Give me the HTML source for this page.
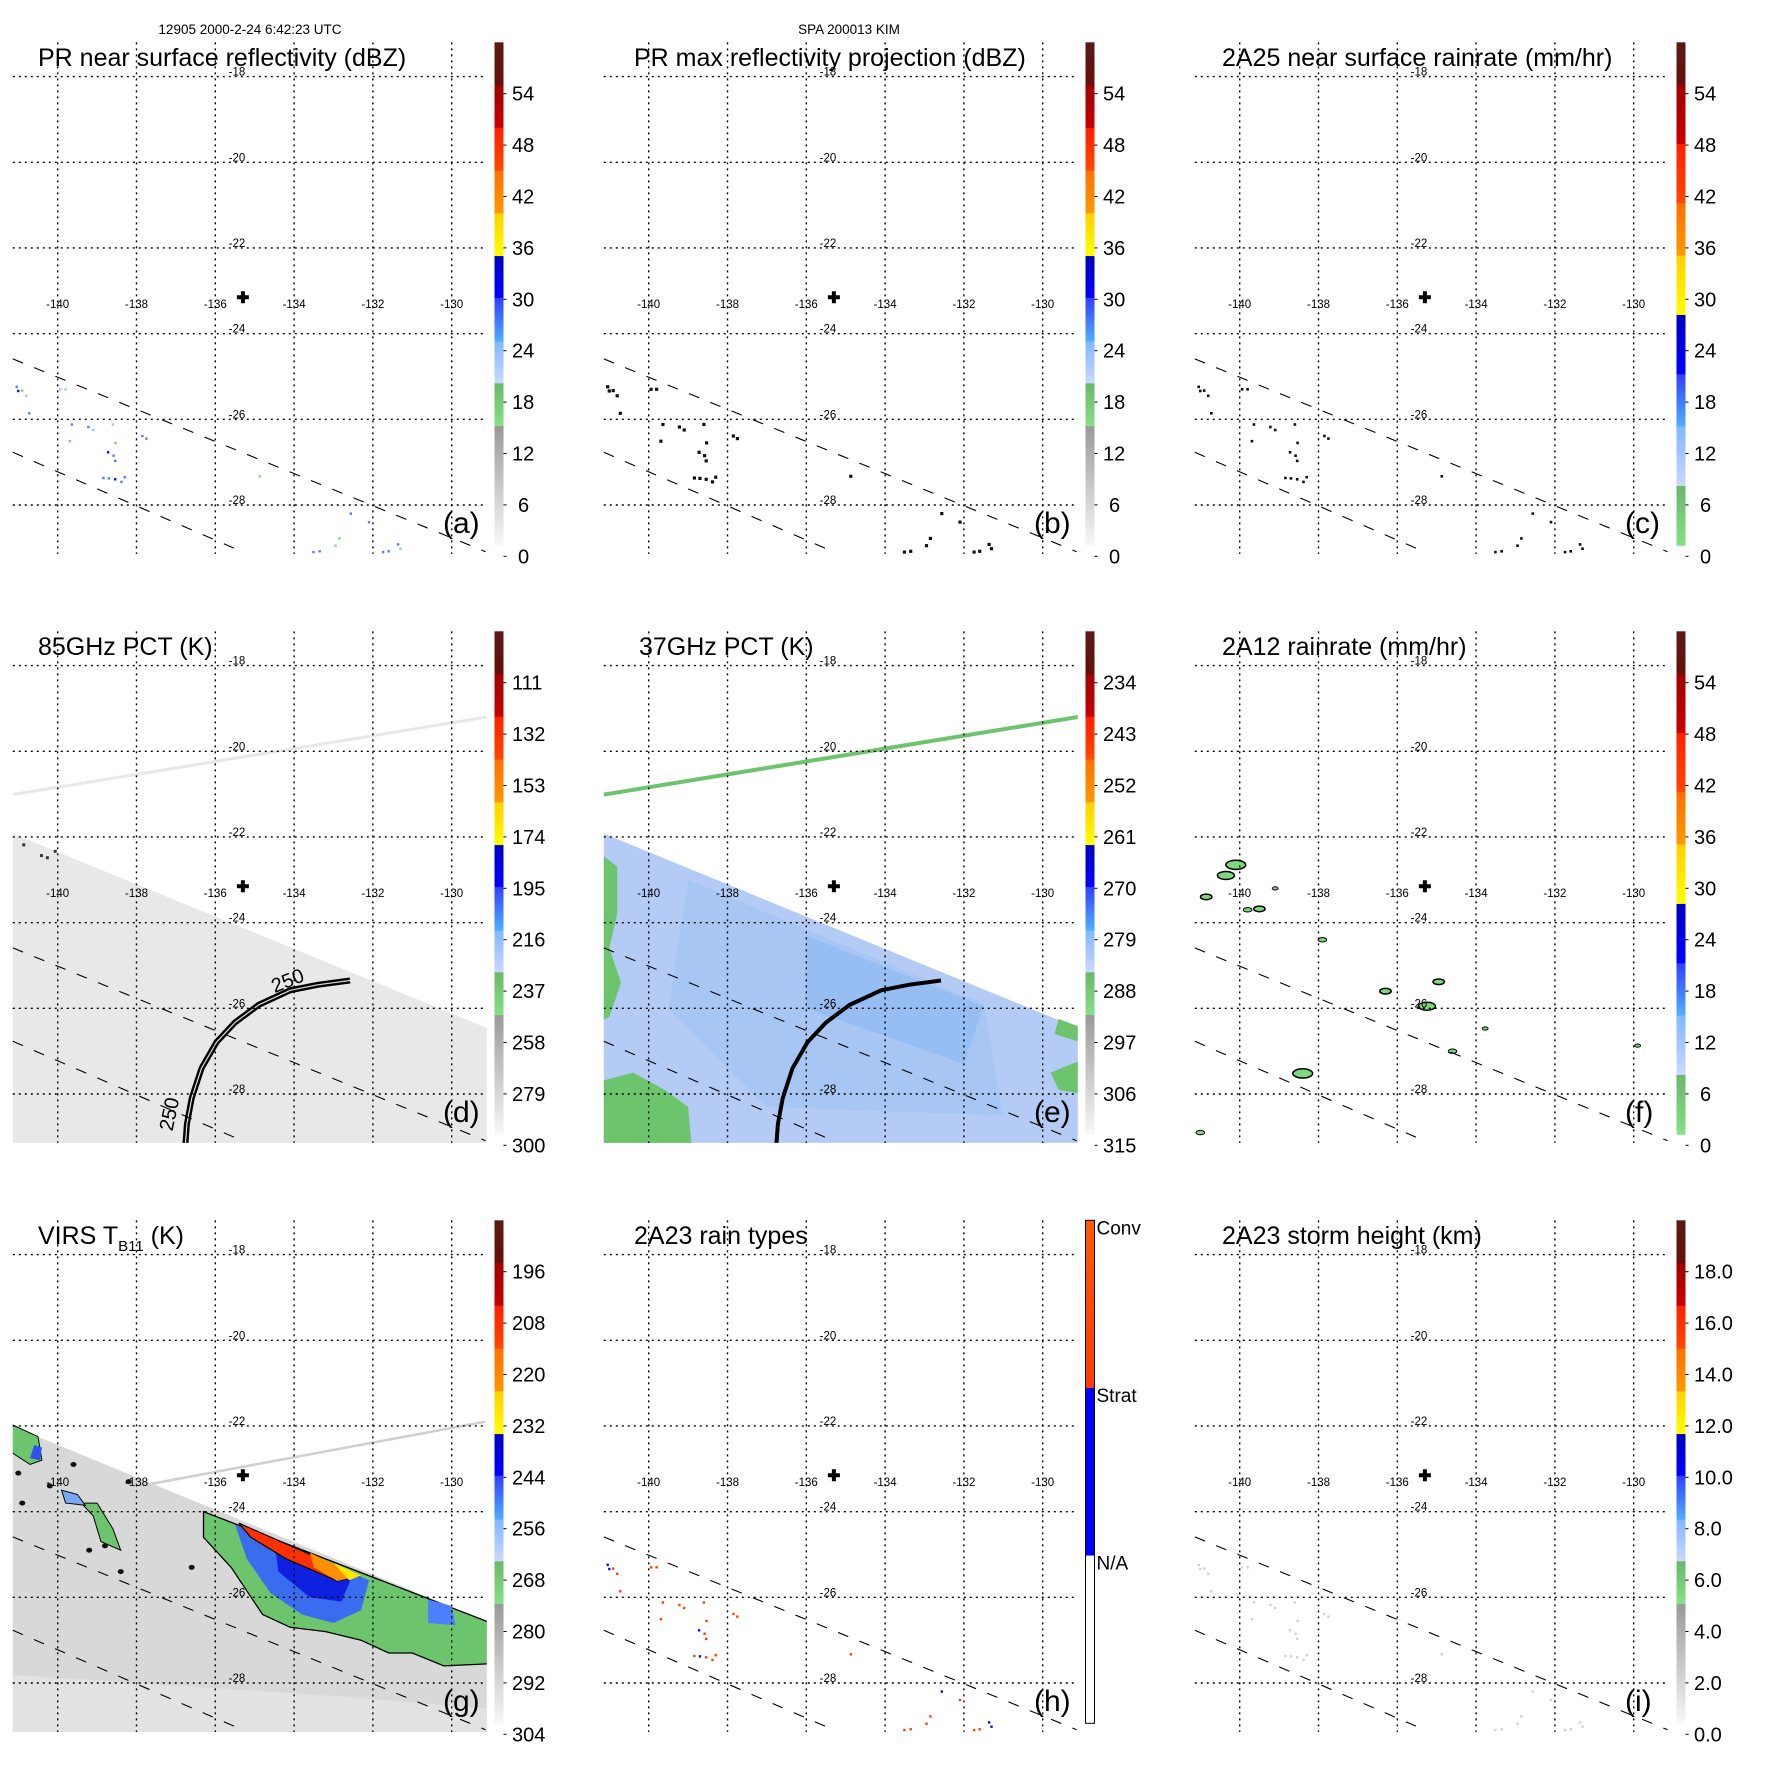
<!DOCTYPE html>
<html><head><meta charset="utf-8"><style>
html,body{margin:0;padding:0;background:#fff;}
svg{display:block;font-family:"Liberation Sans",Arial,sans-serif;}
</style></head><body>
<svg id="fig" xmlns="http://www.w3.org/2000/svg" width="1771" height="1771" viewBox="0 0 1771 1771">
<rect width="1771" height="1771" fill="#fff"/>
<text x="250" y="34" font-size="13.5" text-anchor="middle">12905 2000-2-24 6:42:23 UTC</text>
<text x="849" y="34" font-size="13.5" text-anchor="middle">SPA 200013 KIM</text>
</svg>
<script>
// ---- data arrays ----
const lonTicks = [-140,-138,-136,-134,-132,-130];
const latTicks = [-18,-20,-22,-24,-26,-28];
const centerLon = -135.3, centerLat = -23.15;
// PR echo points (lon, lat, dBZ)
const ptLon = [-141.04,-141.0,-140.9,-140.8,-140.72,-139.94,-139.8,-139.64,-139.22,-139.1,-138.6,-139.69,-138.53,-138.72,-138.58,-138.54,-138.84,-138.7,-138.54,-138.38,-138.3,-137.85,-137.75,-134.87,-132.56,-132.1,-132.85,-132.95,-133.51,-133.35,-131.74,-131.6,-131.36,-131.3];
const ptLat = [-25.24,-25.34,-25.33,-25.45,-25.86,-25.3,-25.3,-26.12,-26.18,-26.25,-26.12,-26.51,-26.55,-26.77,-26.85,-26.97,-27.37,-27.38,-27.4,-27.46,-27.35,-26.39,-26.45,-27.33,-28.2,-28.4,-28.78,-28.95,-29.1,-29.08,-29.1,-29.08,-28.92,-29.02];
const ptVal = [26,32,19,22,24,23,22,24,26,23,22,18,19,30,25,27,26,28,30,25,24,26,27,18,28,24,18,22,28,26,24,27,25,22];
// 2A23 rain type per point: 2=conv,1=strat
const ptType = [1,1,2,2,2,2,2,2,2,2,2,2,2,1,2,2,2,1,2,2,2,2,2,2,1,2,2,2,2,2,2,2,1,1];
// 2A12 rain blobs (lon, lat, mm/hr)
const blobLon = [-140.1,-140.35,-140.85,-139.5,-139.8,-137.9,-136.3,-135.25,-134.95,-138.4,-134.6,-133.77,-129.9,-141.0,-139.1];
const blobLat = [-22.65,-22.9,-23.4,-23.68,-23.7,-24.4,-25.6,-25.95,-25.38,-27.52,-27.0,-26.47,-26.87,-28.9,-23.2];
const blobVal = [6,5,3,3,2,2,3,5,3,6,2,1,1,2,1];
// colorbar tick labels
const tickA = ['54','48','42','36','30','24','18','12','6','0'];
const tickD = ['111','132','153','174','195','216','237','258','279','300'];
const tickE = ['234','243','252','261','270','279','288','297','306','315'];
const tickG = ['196','208','220','232','244','256','268','280','292','304'];
const tickI = ['18.0','16.0','14.0','12.0','10.0','8.0','6.0','4.0','2.0','0.0'];
const typeLabels = ['Conv','Strat','N/A'];

const NS='http://www.w3.org/2000/svg';
const svg=document.getElementById('fig');
function el(tag,attrs,parent){const e=document.createElementNS(NS,tag);for(const k in attrs)e.setAttribute(k,attrs[k]);(parent||svg).appendChild(e);return e;}
const OFFX=591, OFFY=589;
function X(ox,lon){return ox+57.7+(lon+140)*39.4;}
function Y(oy,lat){return oy+76.6+(-18-lat)*42.84;}
const LON0=-141.14,LON1=-129.11,LAT0=-17.2,LAT1=-29.14;

const bandsA=[['#5a1a16','#651008',0,.085],['#a00000','#c80000',.085,.17],['#ff2000','#ff4800',.17,.255],['#ff7000','#ff9800',.255,.34],['#ffd000','#ffff00',.34,.425],['#0000c0','#0000ff',.425,.508],['#3040ff','#50b0ff',.508,.595],['#80b8ff','#ccd8ff',.595,.678],['#68b868','#88e088',.678,.763],['#999999','#f8f8f8',.763,1]];
const bandsC=[['#5a1a16','#651008',0,.084],['#a00000','#c80000',.084,.202],['#ff2000','#ff4800',.202,.32],['#ff7000','#ff9800',.32,.424],['#ffd000','#ffff00',.424,.542],['#0000c0','#0000ff',.542,.66],['#3040ff','#50b0ff',.66,.764],['#80b8ff','#ccd8ff',.764,.882],['#68b868','#88e088',.882,1]];
const defs=el('defs',{});
let gid=0;
function grad(c1,c2){const id='g'+(gid++);const g=el('linearGradient',{id:id,x1:0,y1:0,x2:0,y2:1},defs);el('stop',{offset:0,'stop-color':c1},g);el('stop',{offset:1,'stop-color':c2},g);return 'url(#'+id+')';}

function colorA(v){if(v>=36)return '#ffd000';if(v>=30)return '#0010e0';if(v>=24)return '#4a80ff';if(v>=20)return '#9cc0ff';if(v>=16)return '#78d078';return '#bbbbbb';}

const panels=[
 {id:'a',t:'PR near surface reflectivity (dBZ)',tx:38,cb:'A',ticks:tickA},
 {id:'b',t:'PR max reflectivity projection (dBZ)',tx:43,cb:'A',ticks:tickA},
 {id:'c',t:'2A25 near surface rainrate (mm/hr)',tx:40,cb:'C',ticks:tickA},
 {id:'d',t:'85GHz PCT (K)',tx:38,cb:'A',ticks:tickD},
 {id:'e',t:'37GHz PCT (K)',tx:48,cb:'A',ticks:tickE},
 {id:'f',t:'2A12 rainrate (mm/hr)',tx:40,cb:'C',ticks:tickA},
 {id:'g',t:'VIRS',tx:38,cb:'A',ticks:tickG},
 {id:'h',t:'2A23 rain types',tx:43,cb:'H',ticks:typeLabels},
 {id:'i',t:'2A23 storm height (km)',tx:40,cb:'A',ticks:tickI}
];

function poly(ox,oy,pts,attrs,parent){const d=pts.map((p,i)=>(i?'L':'M')+X(ox,p[0]).toFixed(1)+','+Y(oy,p[1]).toFixed(1)).join(' ')+'Z';attrs.d=d;return el('path',attrs,parent);}
function line(ox,oy,pts,attrs,parent){attrs.d=pts.map((p,i)=>(i?'L':'M')+X(ox,p[0]).toFixed(1)+','+Y(oy,p[1]).toFixed(1)).join(' ');attrs.fill='none';return el('path',attrs,parent);}

const arcPts=[[-132.58,-25.35],[-133.4,-25.45],[-134.1,-25.58],[-134.9,-25.92],[-135.5,-26.33],[-135.97,-26.79],[-136.35,-27.4],[-136.6,-28.1],[-136.72,-28.7],[-136.77,-29.3]];

panels.forEach((p,k)=>{
  const ox=(k%3)*OFFX, oy=Math.floor(k/3)*OFFY;
  const g=el('g',{});
  
  
  const clipId='clip'+p.id;
  const cp=el('clipPath',{id:clipId},defs);
  el('rect',{x:X(ox,LON0),y:Y(oy,LAT0),width:X(ox,LON1)-X(ox,LON0),height:Y(oy,LAT1)-Y(oy,LAT0)},cp);
  const field=el('g',{'clip-path':'url(#'+clipId+')'},g);
  
  
  const swathD=[[-141.3,-21.86],[-129.0,-26.5],[-129.0,-29.5],[-141.3,-29.5]];
  const swathG=[[-141.3,-21.95],[-129.0,-26.6],[-129.0,-29.5],[-141.3,-29.5]];
  if(p.id==='d'){
    poly(ox,oy,swathD,{fill:'#e8e8e8'},field);
    line(ox,oy,[[-141.2,-21.02],[-129.1,-19.2]],{stroke:'#e8e8e8','stroke-width':3},field);
    [[-140.1,-22.3],[-140.3,-22.45],[-140.45,-22.4],[-140.9,-22.15]].forEach(q=>el('rect',{x:X(ox,q[0]),y:Y(oy,q[1]),width:3,height:3,fill:'#333'},field));
    line(ox,oy,arcPts,{stroke:'#000','stroke-width':6},field);
    line(ox,oy,arcPts,{stroke:'#ddd','stroke-width':1.2},field);
    el('text',{x:X(ox,-134.1),y:Y(oy,-25.5),'font-size':20,transform:'rotate(-22 '+X(ox,-134.1)+' '+Y(oy,-25.5)+')','text-anchor':'middle',fill:'#000'},field).textContent='250';
    el('text',{x:X(ox,-137.0),y:Y(oy,-28.5),'font-size':20,transform:'rotate(-78 '+X(ox,-137.0)+' '+Y(oy,-28.5)+')','text-anchor':'middle',fill:'#000'},field).textContent='250';
  }
  if(p.id==='e'){
    poly(ox,oy,swathD,{fill:'#b4cbf6'},field);
    poly(ox,oy,[[-139,-23.0],[-131.5,-25.9],[-131,-28.5],[-137,-28.3],[-139.5,-26]],{fill:'#a4c4f4',opacity:0.8},field);
    poly(ox,oy,[[-136,-24.3],[-131.5,-25.95],[-132,-27.3],[-136,-26]],{fill:'#94bcf2',opacity:0.8},field);
    poly(ox,oy,[[-141.2,-27.7],[-140.4,-27.5],[-139.6,-27.9],[-139.0,-28.3],[-138.9,-29.3],[-141.2,-29.3]],{fill:'#6cc46c'},field);
    poly(ox,oy,[[-141.2,-22.4],[-140.8,-22.7],[-140.8,-23.8],[-141.0,-24.6],[-140.7,-25.4],[-141.0,-26.2],[-141.2,-26.3]],{fill:'#6cc46c'},field);
    poly(ox,oy,[[-129.8,-27.5],[-129.0,-27.2],[-129.0,-28.0],[-129.6,-27.9]],{fill:'#6cc46c'},field);
    poly(ox,oy,[[-129.6,-26.25],[-129.0,-26.45],[-129.0,-26.8],[-129.7,-26.6]],{fill:'#6cc46c'},field);
    line(ox,oy,[[-141.2,-21.02],[-129.1,-19.2]],{stroke:'#6cc46c','stroke-width':4},field);
    line(ox,oy,arcPts,{stroke:'#000','stroke-width':4},field);
  }
  if(p.id==='g'){
    poly(ox,oy,swathG,{fill:'#d8d8d8'},field);
    poly(ox,oy,[[-141.3,-27.8],[-133,-28.3],[-129,-28.6],[-129,-29.5],[-141.3,-29.5]],{fill:'#e2e2e2'},field);
    line(ox,oy,[[-137.9,-23.4],[-129.15,-21.9]],{stroke:'#cfcfcf','stroke-width':2.5},field);
    poly(ox,oy,[[-136.3,-24.0],[-129.0,-26.6],[-129.0,-27.55],[-130.2,-27.6],[-131.0,-27.3],[-131.6,-27.3],[-132.3,-27.0],[-133.2,-26.8],[-134.1,-26.7],[-134.8,-26.4],[-135.6,-25.3],[-136.3,-24.6]],{fill:'#6cc46c',stroke:'#000','stroke-width':1.3},field);
    poly(ox,oy,[[-135.5,-24.3],[-132.1,-25.6],[-132.3,-26.3],[-133.0,-26.6],[-133.8,-26.4],[-134.6,-25.9],[-135.2,-25.1]],{fill:'#3a6cf0'},field);
    poly(ox,oy,[[-134.5,-24.7],[-132.5,-25.45],[-132.8,-26.1],[-133.6,-26.0],[-134.4,-25.4]],{fill:'#1020e0'},field);
    poly(ox,oy,[[-130.6,-26.05],[-130.0,-26.2],[-129.9,-26.65],[-130.6,-26.6]],{fill:'#4a80ff'},field);
    poly(ox,oy,[[-135.4,-24.27],[-132.35,-25.5],[-132.9,-25.62],[-134.2,-25.1],[-135.1,-24.6]],{fill:'#ff3000',stroke:'#000','stroke-width':1.2},field);
    poly(ox,oy,[[-133.6,-24.96],[-132.35,-25.5],[-132.9,-25.62],[-133.5,-25.3]],{fill:'#ff9000'},field);
    poly(ox,oy,[[-133.0,-25.2],[-132.3,-25.49],[-132.6,-25.6]],{fill:'#ffe800'},field);
    poly(ox,oy,[[-139.4,-23.8],[-139.0,-23.8],[-138.6,-24.4],[-138.4,-24.9],[-138.9,-24.7],[-139.1,-24.1]],{fill:'#6cc46c',stroke:'#000','stroke-width':1},field);
    poly(ox,oy,[[-139.9,-23.5],[-139.5,-23.6],[-139.3,-23.85],[-139.8,-23.8]],{fill:'#7aa8f5',stroke:'#000','stroke-width':1},field);
    poly(ox,oy,[[-141.2,-21.95],[-140.5,-22.25],[-140.4,-22.8],[-140.7,-22.9],[-141.2,-22.6]],{fill:'#6cc46c',stroke:'#000','stroke-width':1},field);
    poly(ox,oy,[[-140.6,-22.45],[-140.4,-22.5],[-140.45,-22.8],[-140.7,-22.75]],{fill:'#3050f0'},field);
    [[-141,-23.1],[-140.9,-23.8],[-140.2,-23.4],[-139.2,-24.9],[-138.8,-24.8],[-138.4,-25.4],[-136.6,-25.3],[-138.2,-23.3],[-139.6,-22.9]].forEach(q=>el('ellipse',{cx:X(ox,q[0]),cy:Y(oy,q[1]),rx:3,ry:2.5,fill:'#111'},field));
  }
  if(['a','b','c','h','i'].includes(p.id)){
    ptLon.forEach((lon,i)=>{
      let fill;
      if(p.id==='a')fill=colorA(ptVal[i]);
      else if(p.id==='h')fill=ptType[i]===2?'#ff4000':'#0010ff';
      else if(p.id==='i')fill='#d0d0d0';
      else fill='#111';
      const sz=(p.id==='b')?3.2:(p.id==='c'?2.6:2.4);
      const r=el('rect',{x:(X(ox,lon)-sz/2).toFixed(1),y:(Y(oy,ptLat[i])-sz/2).toFixed(1),width:sz,height:sz,fill:fill},field);
      
      
    });
  }
  if(p.id==='f'){
    blobLon.forEach((lon,i)=>{
      const v=blobVal[i];
      const e=el('ellipse',{cx:X(ox,lon).toFixed(1),cy:Y(oy,blobLat[i]).toFixed(1),rx:(1.5+v*1.4).toFixed(1),ry:(1+v*0.6).toFixed(1),fill:'#7ed87e',stroke:'#000','stroke-width':v>2?1.5:1},field);
      
      
    });
  }
  latTicks.forEach(la=>{el('line',{x1:X(ox,LON0),x2:X(ox,LON1),y1:Y(oy,la),y2:Y(oy,la),stroke:'#000','stroke-width':1.4,'stroke-dasharray':'2,4'},g);
    const t=el('text',{x:X(ox,-135.45),y:Y(oy,la)-1,'font-size':11.5,'text-anchor':'middle'},g);t.textContent=la;
    });
  lonTicks.forEach(lo=>{el('line',{x1:X(ox,lo),x2:X(ox,lo),y1:Y(oy,LAT0),y2:Y(oy,LAT1),stroke:'#000','stroke-width':1.4,'stroke-dasharray':'2,4'},g);
    const t=el('text',{x:X(ox,lo),y:Y(oy,-23.4),'font-size':11.5,'text-anchor':'middle'},g);t.textContent=lo;
    });
  line(ox,oy,[[-141.14,-24.59],[-129.14,-29.09]],{stroke:'#000','stroke-width':1.1,'stroke-dasharray':'11,12'},g);
  line(ox,oy,[[-141.14,-26.77],[-135.32,-29.09]],{stroke:'#000','stroke-width':1.1,'stroke-dasharray':'11,12'},g);
  const cx=X(ox,centerLon),cy=Y(oy,centerLat);
  const cr=el('path',{d:`M${cx-6},${cy-2}h12v4h-12z M${cx-2},${cy-6}h4v12h-4z`,fill:'#000'},g);
  
  const tt=el('text',{x:ox+p.tx,y:oy+66,'font-size':25},g);
  
  if(p.id==='g'){tt.textContent='VIRS T';const s=el('tspan',{'font-size':15,dy:7},tt);s.textContent='B11';const s2=el('tspan',{dy:-7},tt);s2.textContent=' (K)';}
  else tt.textContent=p.t;
  const lb=el('text',{x:ox+443,y:oy+533,'font-size':30},g);lb.textContent='('+p.id+')';
  
  const bx=ox+494.5,bt=oy+42.3,bh=503,bw=9;
  const cbg=el('g',{},g);
  
  if(p.cb==='H'){
    el('rect',{x:bx,y:bt,width:bw,height:bh/3,fill:grad('#ff5a00','#ff3c00')},cbg);
    el('rect',{x:bx,y:bt+bh/3,width:bw,height:bh/3,fill:'#0000ff'},cbg);
    el('rect',{x:bx,y:bt+2*bh/3,width:bw,height:bh/3,fill:'#fff'},cbg);
    el('rect',{x:bx,y:bt,width:bw,height:bh,fill:'none',stroke:'#000','stroke-width':1},cbg);
    p.ticks.forEach((s,i)=>{const t=el('text',{x:bx+bw+2,y:bt+i*bh/3+14,'font-size':19},cbg);t.textContent=s;
      });
  } else {
    const bands=p.cb==='A'?bandsA:bandsC;
    bands.forEach(b=>el('rect',{x:bx,y:bt+b[2]*bh,width:bw,height:(b[3]-b[2])*bh+0.5,fill:grad(b[0],b[1])},cbg));
    p.ticks.forEach((s,i)=>{const yy=oy+93.7+i*51.4;
      el('line',{x1:bx+bw,x2:bx+bw+3,y1:yy,y2:yy,stroke:'#000','stroke-width':1},cbg);
      const t=el('text',{x:ox+512+(s.length<2?6:0),y:yy+7,'font-size':20},cbg);t.textContent=s;
      });
  }
});
</script>
</body></html>
